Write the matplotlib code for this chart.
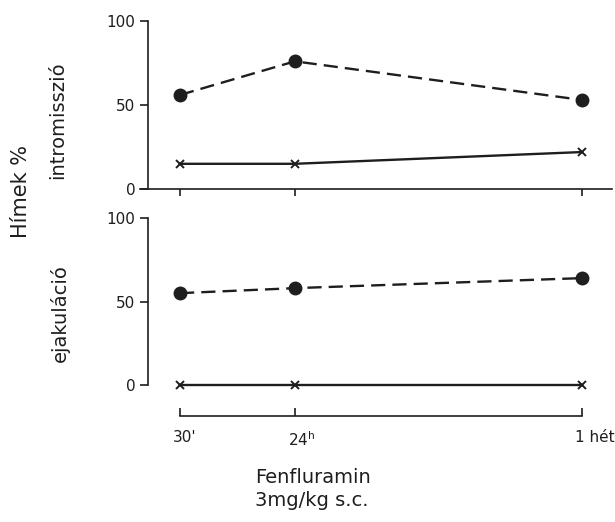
import matplotlib

matplotlib.use("Agg")
import matplotlib.pyplot as plt  # noqa: E402
import matplotlib.transforms as mtransforms  # noqa: E402

# time points (non-uniform spacing as drawn)
x_pos = [0.0, 1.0, 3.5]
x_labels = ["30'", "24$^{\\mathregular{h}}$", "1 hét"]

# intromisszió (%)
intro_dot = [56, 76, 53]
intro_cross = [15, 15, 22]
# ejakuláció (%)
ejak_dot = [55, 58, 64]
ejak_cross = [0, 0, 0]

INK = "#1e1e1e"
plt.rcParams["font.family"] = ["DejaVu Sans"]
plt.rcParams["text.color"] = INK
plt.rcParams["axes.edgecolor"] = INK
plt.rcParams["xtick.color"] = INK
plt.rcParams["ytick.color"] = INK
plt.rcParams["mathtext.fontset"] = "dejavusans"

W, H = 615, 522
fig = plt.figure(figsize=(W / 100, H / 100), dpi=100)

xlim = (-0.279, 3.761)


def px_axes(x0, y_top, x1, y_bot):
    return fig.add_axes([x0 / W, (H - y_bot) / H, (x1 - x0) / W, (y_bot - y_top) / H])


def style(ax):
    for s in ("top", "right"):
        ax.spines[s].set_visible(False)
    ax.spines["left"].set_linewidth(1.2)
    ax.set_xlim(*xlim)
    ax.set_ylim(0, 100)
    ax.set_yticks([0, 50, 100])
    ax.tick_params(axis="y", direction="out", length=6, width=1.2, labelsize=11, pad=3)
    ax.patch.set_alpha(0)


def draw(ax, dots, crosses):
    ax.plot(x_pos, dots, color=INK, lw=1.7, dashes=(6, 3), marker="o",
            ms=9, clip_on=False, zorder=3)
    ax.plot(x_pos, crosses, color=INK, lw=1.7, marker="x", ms=6, mew=1.4,
            clip_on=False, zorder=3)


ax1 = px_axes(148, 21, 612, 189)
style(ax1)
ax1.spines["bottom"].set_linewidth(1.2)
ax1.spines["bottom"].set_bounds(xlim[0] - 0.07, xlim[1])
ax1.set_xticks(x_pos)
ax1.set_xticklabels([])
ax1.tick_params(axis="x", direction="out", length=5, width=1.2)
draw(ax1, intro_dot, intro_cross)

ax2 = px_axes(148, 218, 612, 385)
style(ax2)
ax2.spines["bottom"].set_visible(False)
ax2.set_xticks([])
draw(ax2, ejak_dot, ejak_cross)

# separate time axis
ax3 = px_axes(148, 400, 612, 416)
ax3.set_xlim(*xlim)
for s in ("top", "right", "left"):
    ax3.spines[s].set_visible(False)
ax3.spines["bottom"].set_bounds(x_pos[0], x_pos[-1])
ax3.spines["bottom"].set_linewidth(1.2)
ax3.set_yticks([])
ax3.set_xticks(x_pos)
ax3.set_xticklabels(x_labels)
ax3.tick_params(axis="x", direction="in", length=6, width=1.2, labelsize=11, pad=10)
ax3.patch.set_alpha(0)
shift = mtransforms.ScaledTranslation(-7 / 100, 0, fig.dpi_scale_trans)
for lab in ax3.get_xticklabels():
    lab.set_horizontalalignment("left")
    lab.set_transform(lab.get_transform() + shift)

fig.text(255 / W, 1 - 468 / H, "Fenfluramin\n3mg/kg s.c.", ha="left", va="top",
         fontsize=14, linespacing=1.25)

fig.text(58 / W, 1 - 120 / H, "intromisszió", rotation=90, ha="center", va="center",
         fontsize=14)
fig.text(60 / W, 1 - 313 / H, "ejakuláció", rotation=90, ha="center", va="center",
         fontsize=14)
fig.text(21 / W, 1 - 192 / H, "Hímek %", rotation=90, ha="center", va="center",
         fontsize=15)

fig.savefig("out.png", dpi=100)
